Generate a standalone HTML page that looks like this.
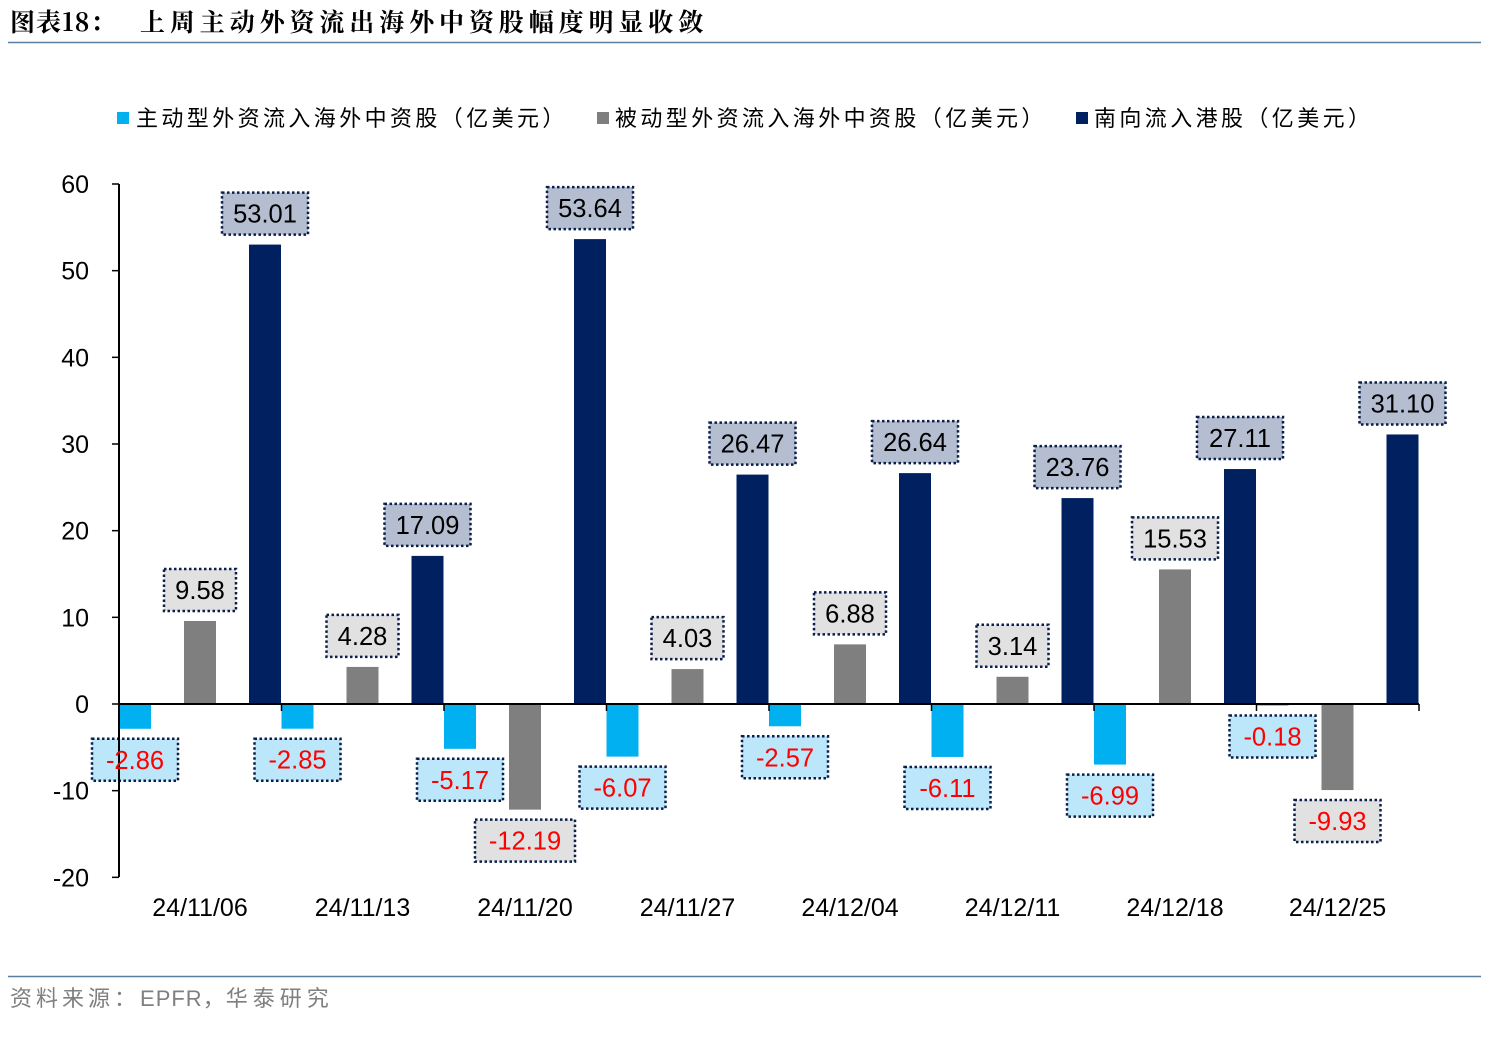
<!DOCTYPE html>
<html><head><meta charset="utf-8"><style>
body{margin:0;background:#fff;}
svg text{font-family:"Liberation Sans","Noto Sans CJK SC",sans-serif;}
</style></head><body>
<svg id="c" width="1489" height="1033" xmlns="http://www.w3.org/2000/svg">
<text x="10" y="31" font-size="25" font-weight="bold" fill="#000" letter-spacing="1" style="font-family:'Noto Serif CJK SC','Noto Sans CJK SC',serif">图表18：</text>
<text x="140" y="31" font-size="25" font-weight="bold" fill="#000" letter-spacing="4.9" style="font-family:'Noto Serif CJK SC','Noto Sans CJK SC',serif">上周主动外资流出海外中资股幅度明显收敛</text>
<line x1="8" y1="42.5" x2="1481" y2="42.5" stroke="#5a7ea0" stroke-width="1.5"/>
<line x1="8" y1="976.5" x2="1481" y2="976.5" stroke="#5a7ea0" stroke-width="1.5"/>
<text x="10" y="1006" font-size="22" fill="#7f7f7f"><tspan letter-spacing="4">资料来源：</tspan><tspan letter-spacing="1">EPFR，</tspan><tspan letter-spacing="5">华泰研究</tspan></text>
<g>
<rect x="117" y="112" width="12" height="12" fill="#00b0f0"/>
<text x="136" y="126" font-size="22" fill="#000" letter-spacing="3.4">主动型外资流入海外中资股（亿美元）</text>
<rect x="597" y="112" width="12" height="12" fill="#7f7f7f"/>
<text x="615" y="126" font-size="22" fill="#000" letter-spacing="3.4">被动型外资流入海外中资股（亿美元）</text>
<rect x="1076" y="112" width="12" height="12" fill="#002060"/>
<text x="1094" y="126" font-size="22" fill="#000" letter-spacing="3.4">南向流入港股（亿美元）</text>
</g>
<g id="plot"></g>
</svg>
<script>
const categories=["24/11/06","24/11/13","24/11/20","24/11/27","24/12/04","24/12/11","24/12/18","24/12/25"];
const activeValues=[-2.86,-2.85,-5.17,-6.07,-2.57,-6.11,-6.99,-0.18];
const passiveValues=[9.58,4.28,-12.19,4.03,6.88,3.14,15.53,-9.93];
const southValues=[53.01,17.09,53.64,26.47,26.64,23.76,27.11,31.10];
const yTicks=[60,50,40,30,20,10,0,-10,-20];

const NS="http://www.w3.org/2000/svg";
const g=document.getElementById('plot');
const X0=119,X1=1419,Y0=704;
const yScale=v=>Y0-v*(520/60);
const gw=(X1-X0)/categories.length;
const barX=(i,k)=>X0+i*gw+16+k*65;
function mk(tag,attrs,parent){const e=document.createElementNS(NS,tag);for(const k in attrs)e.setAttribute(k,attrs[k]);(parent||g).appendChild(e);return e;}

yTicks.forEach(t=>{
  const y=yScale(t);
  const ln=mk('line',{x1:X0-7,x2:X0,y1:y,y2:y,stroke:'#000','stroke-width':1.5});
  
  
  const tx=mk('text',{x:89,y:y+9,'font-size':25,'text-anchor':'end',fill:'#000'});
  tx.textContent=t;
  
  
});

const series=[
 {vals:activeValues,color:'#00b0f0',bg:'rgba(176,226,248,0.85)',name:'active'},
 {vals:passiveValues,color:'#7f7f7f',bg:'rgba(222,222,222,0.9)',name:'passive'},
 {vals:southValues,color:'#002060',bg:'rgba(176,186,206,0.95)',name:'southbound'}
];
const labels=[];
series.forEach((s,k)=>{
  s.vals.forEach((v,i)=>{
    const cx=barX(i,k);
    const y=yScale(v);
    const r=mk('rect',{x:cx-16,y:Math.min(y,Y0),width:32,height:Math.abs(Y0-y),fill:s.color});
    
    
    const txt=v.toFixed(2);
    const w=txt.length*14+16;
    const by=v>=0?y-10-42:y+10;
    labels.push({cx,by,w,txt,s,i,tc:v<0?'#ff0000':'#000'});
  });
});
const xa=mk('line',{x1:X0,x2:X1,y1:Y0,y2:Y0,stroke:'#000','stroke-width':2});


for(let i=0;i<=categories.length;i++){
  const x=X0+i*gw;
  const t=mk('line',{x1:x,x2:x,y1:Y0,y2:Y0+7,stroke:'#000','stroke-width':1.5});
  
  
}
categories.forEach((c,i)=>{
  const t=mk('text',{x:X0+i*gw+81,y:916,'font-size':25,'text-anchor':'middle',fill:'#000'});
  t.textContent=c;
  
  
});
labels.forEach(L=>{
  const b=mk('rect',{x:L.cx-L.w/2,y:L.by,width:L.w,height:42,fill:L.s.bg,stroke:'#0a1f4a','stroke-width':2.5,'stroke-dasharray':'2.5 2.5'});
  
  
});
const ya=mk('line',{x1:X0,x2:X0,y1:184,y2:877,stroke:'#000','stroke-width':2});


labels.forEach(L=>{
  const t=mk('text',{x:L.cx,y:L.by+30,'font-size':25.5,'text-anchor':'middle',fill:L.tc});
  t.textContent=L.txt;
  
  
});
</script>
</body></html>
